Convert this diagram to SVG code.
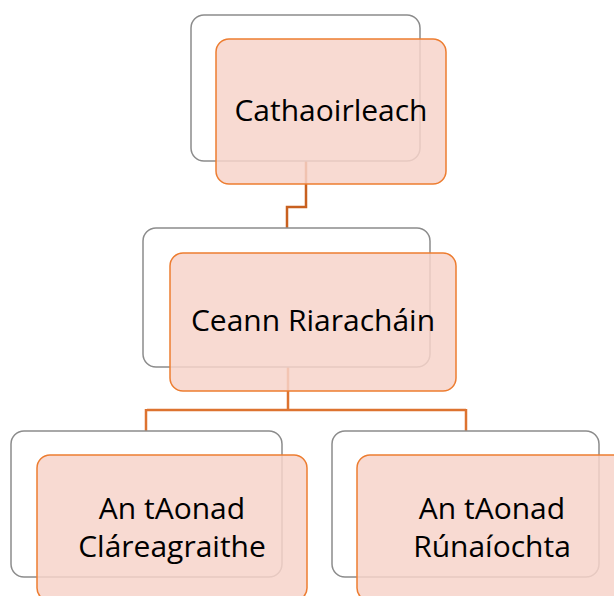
<svg xmlns="http://www.w3.org/2000/svg" width="614" height="596" viewBox="0 0 614 596">
<style>
.outline{fill:#ffffff;stroke:#8c8c8c;stroke-width:1.5}
.box{fill:#F7D3CA;fill-opacity:0.85;stroke:#ED7D31;stroke-width:1.5}
.conn{fill:none;stroke-width:2.5}
.lbl{font-family:"Open Sans","Noto Sans","Liberation Sans",sans-serif;font-size:30px;fill:#000000;text-anchor:middle}
</style>
<rect width="614" height="596" fill="#ffffff"/>
<g id="connectors">
<path class="conn" stroke="#C8601F" d="M306,161 V207 H287 V229"/>
<path class="conn" stroke="#DD7330" d="M288,367 V410 M147,410 H466 M146,409 V431 M466,409 V431"/>
</g>
<g id="n1">
<rect class="outline" x="191" y="15" width="229" height="146" rx="13"/>
<rect class="box" x="216" y="39" width="230" height="145" rx="13"/>
<text class="lbl" x="331" y="121">Cathaoirleach</text>
</g>
<g id="n2">
<rect class="outline" x="143" y="228" width="287" height="139" rx="13"/>
<rect class="box" x="170" y="253" width="286" height="138" rx="13"/>
<text class="lbl" x="313" y="331">Ceann Riaracháin</text>
</g>
<g id="n3">
<rect class="outline" x="11" y="431" width="271" height="146" rx="13"/>
<rect class="box" x="37" y="455" width="270" height="146" rx="13"/>
<text class="lbl" x="172" y="519">An tAonad</text>
<text class="lbl" x="172" y="557">Cláreagraithe</text>
</g>
<g id="n4">
<rect class="outline" x="332" y="431" width="267" height="146" rx="13"/>
<rect class="box" x="357" y="455" width="270" height="146" rx="13"/>
<text class="lbl" x="492" y="519">An tAonad</text>
<text class="lbl" x="492" y="557">Rúnaíochta</text>
</g>
</svg>
